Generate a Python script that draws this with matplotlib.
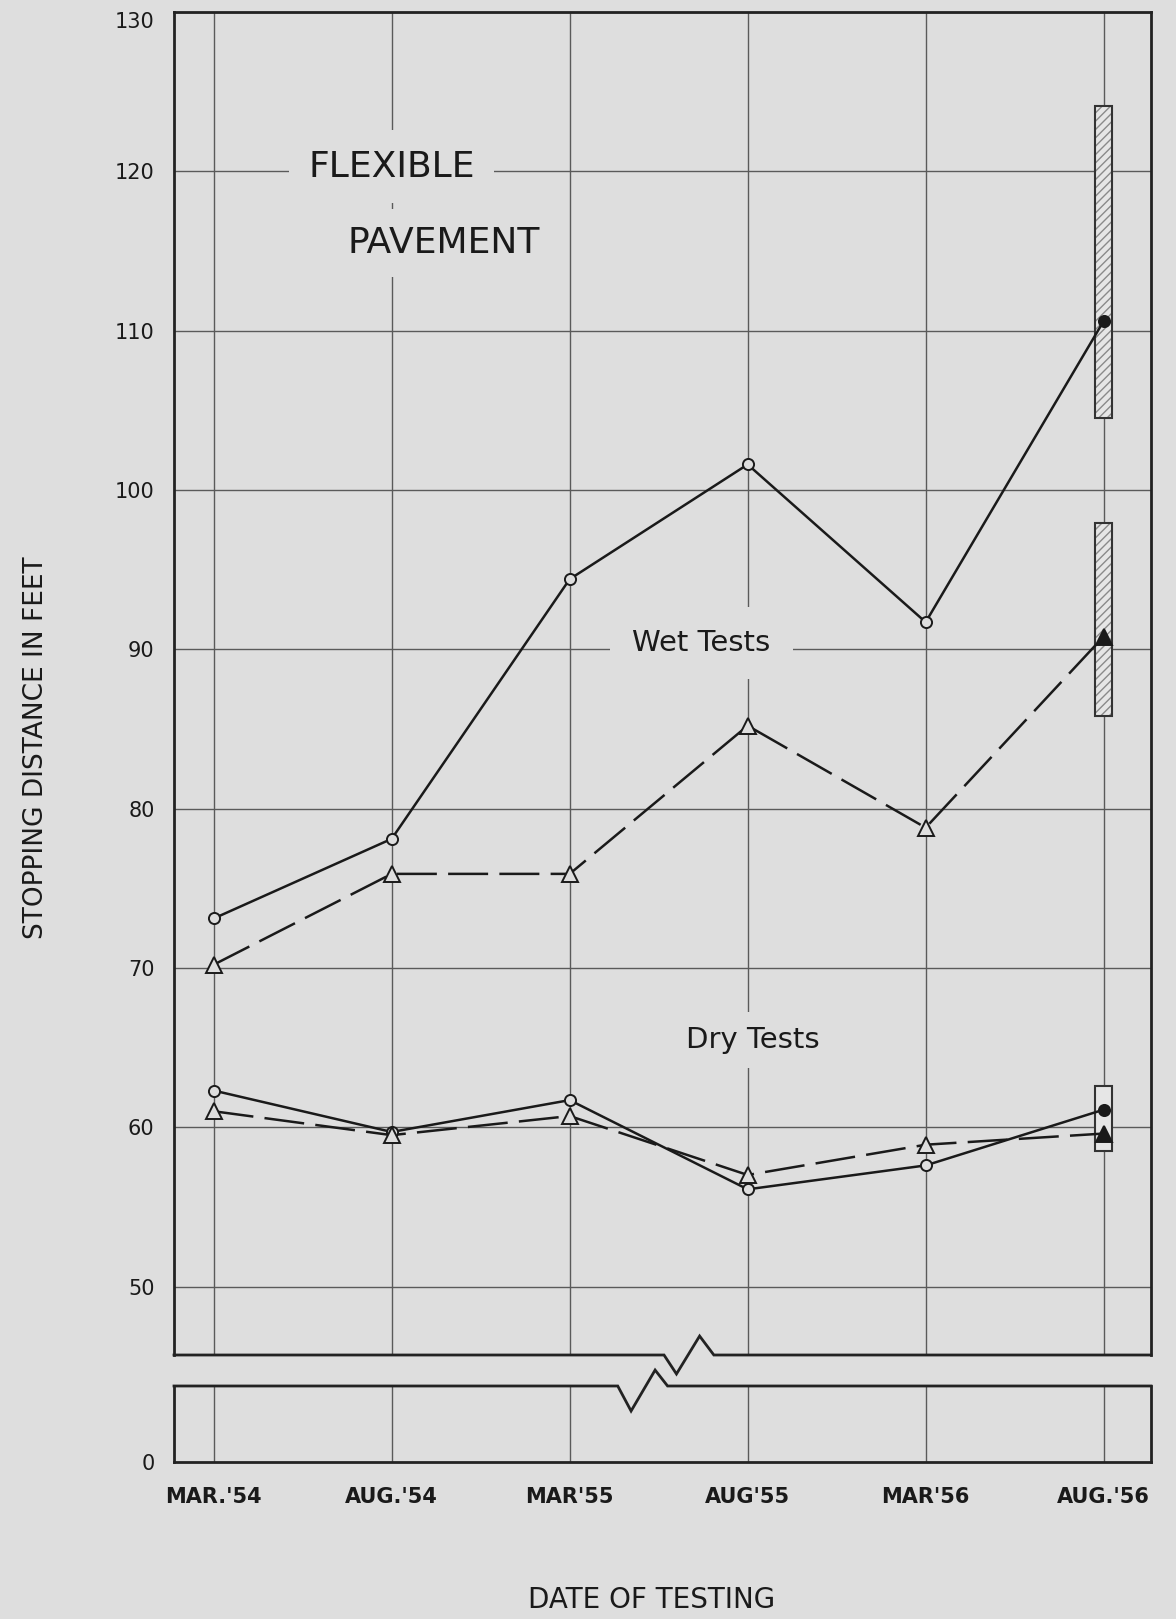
import matplotlib
matplotlib.use("Agg")
import matplotlib.pyplot as plt
import numpy as np

# test dates (x axis)
dates = ["MAR.'54", "AUG.'54", "MAR'55", "AUG'55", "MAR'56", "AUG.'56"]

# stopping distance in feet
wet_circle = [73.1, 78.1, 94.4, 101.6, 91.7, 110.6]
wet_triangle = [70.2, 75.9, 75.9, 85.2, 78.8, 90.8]
dry_circle = [62.3, 59.7, 61.7, 56.1, 57.6, 61.1]
dry_triangle = [61.0, 59.5, 60.7, 57.0, 58.9, 59.6]

# range bars at the last test date
range_low = [104.5, 85.8, 58.5]
range_high = [124.1, 97.9, 62.6]
range_hatched = [True, True, False]

upper_ticks = [50, 60, 70, 80, 90, 100, 110, 120, 130]
lower_ticks = [0]

bg = '#dedede'
ink = '#1a1a1a'
gridc = '#5a5a5a'

x = np.arange(len(dates))

fig = plt.figure(figsize=(11.76, 16.19), dpi=100, facecolor=bg)
ax = fig.add_axes([0.14796, 0.16306, 0.83078, 0.82953], facecolor=bg)
axl = fig.add_axes([0.14796, 0.09697, 0.83078, 0.04695], facecolor=bg)

xmin, xmax = -0.223, 5.266
ax.set_xlim(xmin, xmax)
ax.set_ylim(45.7, 130)
axl.set_xlim(xmin, xmax)
axl.set_ylim(0, 4.77)

# grid
for a in (ax, axl):
    a.set_xticks(x)
    a.tick_params(length=0)
    a.grid(True, axis='x', color=gridc, lw=1.0, zorder=0)
    a.set_axisbelow(True)
ax.set_yticks(upper_ticks)
ax.grid(True, axis='y', color=gridc, lw=1.0, zorder=0)
ax.set_xticklabels([])
axl.set_yticks(lower_ticks)
ax.tick_params(axis='y', labelsize=15, pad=14, labelcolor=ink)
axl.tick_params(axis='y', labelsize=15, pad=14, labelcolor=ink)
axl.set_xticks(x)
axl.set_xticklabels(dates, fontsize=15, fontweight='bold', color=ink)
axl.tick_params(axis='x', pad=18)
ax.get_yticklabels()[-1].set_va('top')

# frames with the broken-axis zigzag
for a in (ax, axl):
    for s in a.spines.values():
        s.set_color('#222222')
        s.set_linewidth(2)
ax.spines['bottom'].set_visible(False)
axl.spines['top'].set_visible(False)
y0 = 45.7
ax.plot([xmin, 2.53, 2.60, 2.73, 2.81, xmax], [y0, y0, y0 - 1.19, y0 + 1.19, y0, y0],
        color='#222222', lw=2, clip_on=False, zorder=5, solid_joinstyle='miter')
y1 = 4.77
axl.plot([xmin, 2.27, 2.345, 2.48, 2.55, xmax], [y1, y1, y1 - 1.57, y1 + 1.0, y1, y1],
         color='#222222', lw=2, clip_on=False, zorder=5, solid_joinstyle='miter')

# range bars
plt.rcParams['hatch.color'] = '#8a8a8a'
plt.rcParams['hatch.linewidth'] = 1.0
bw = 0.095
for lo, hi, h in zip(range_low, range_high, range_hatched):
    ax.bar(x[-1], hi - lo, bottom=lo, width=bw, color='#e6e6e6',
           hatch='////' if h else None, edgecolor='#8a8a8a', linewidth=0, zorder=2)
    ax.bar(x[-1], hi - lo, bottom=lo, width=bw, facecolor='none',
           edgecolor='#333333', linewidth=1.5, zorder=2.5)

# series
def series(vals, marker, ms, dashed):
    kw = dict(color=ink, lw=1.8, zorder=3)
    if dashed:
        ax.plot(x, vals, dashes=(16, 4.5), **kw)
    else:
        ax.plot(x, vals, **kw)
    ax.plot(x[:-1], vals[:-1], ls='none', marker=marker, ms=ms, mfc=bg,
            mec=ink, mew=1.4, zorder=4)
    ax.plot(x[-1:], vals[-1:], ls='none', marker=marker, ms=ms, mfc=ink,
            mec=ink, mew=1.4, zorder=4)

series(wet_circle, 'o', 8, False)
series(wet_triangle, '^', 12, True)
series(dry_circle, 'o', 8, False)
series(dry_triangle, '^', 12, True)

# labels inside the chart
box = lambda p: dict(facecolor=bg, edgecolor='none', pad=p)
ax.text(1.0, 120.3, 'FLEXIBLE', fontsize=26, ha='center', va='center',
        color=ink, bbox=box(14), zorder=1)
ax.text(1.29, 115.5, 'PAVEMENT', fontsize=26, ha='center', va='center',
        color=ink, bbox=box(12), zorder=1)
ax.text(2.74, 90.4, 'Wet Tests', fontsize=21, ha='center', va='center',
        color=ink, bbox=box(16), zorder=1)
ax.text(3.03, 65.5, 'Dry Tests', fontsize=21, ha='center', va='center',
        color=ink, bbox=box(10), zorder=1)

ax.set_ylabel('STOPPING DISTANCE IN FEET', fontsize=19, color=ink)
ax.yaxis.set_label_coords(-0.128, 0.452)
axl.set_xlabel('DATE OF TESTING', fontsize=20, color=ink, va='center')
axl.xaxis.set_label_coords(0.489, -1.816)

fig.savefig('out.png', dpi=100, facecolor=bg)
